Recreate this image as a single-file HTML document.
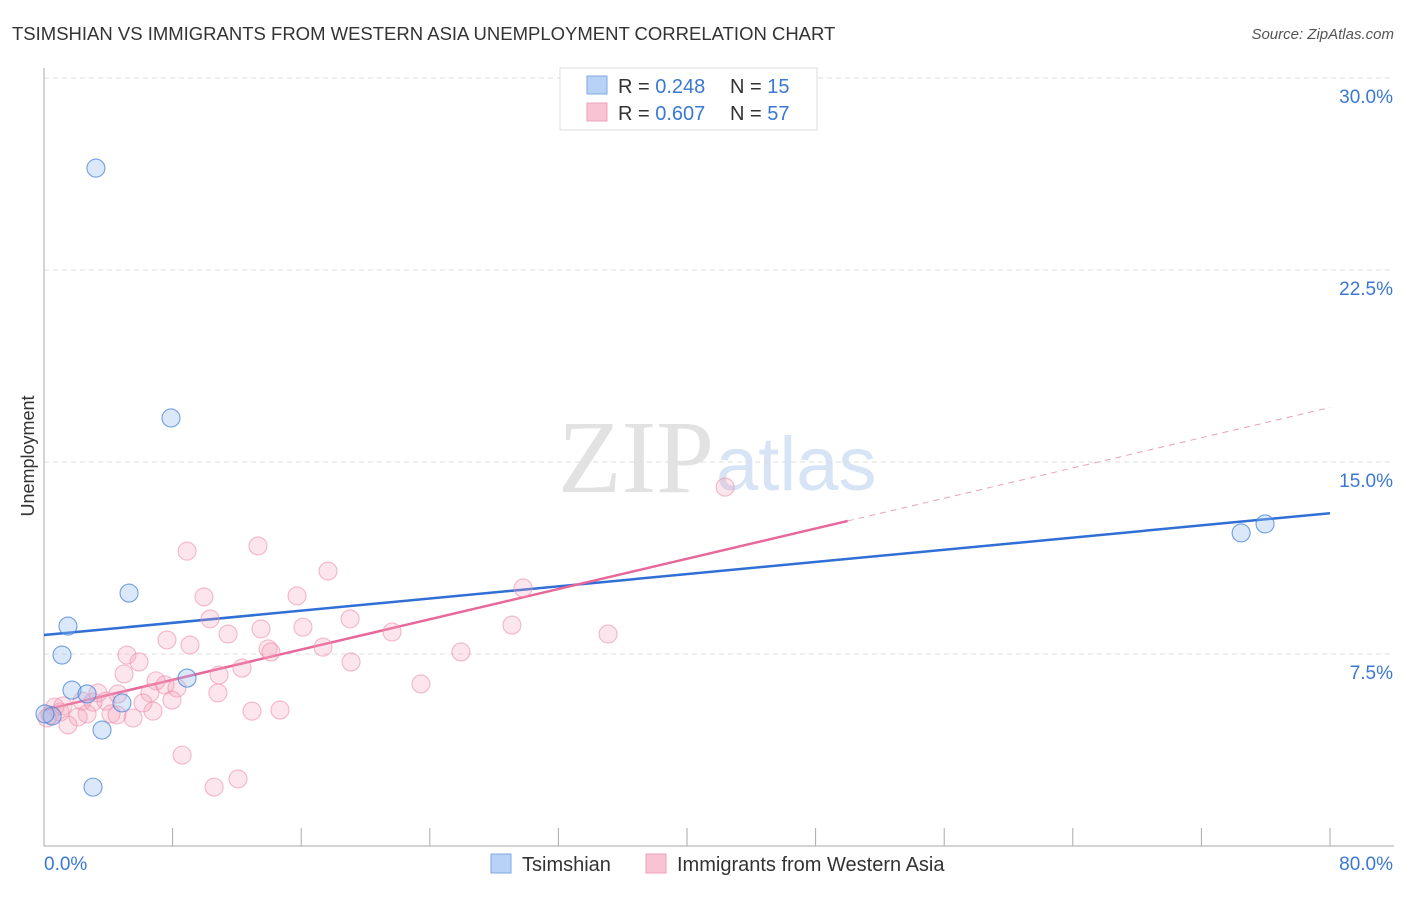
<!DOCTYPE html>
<html><head><meta charset="utf-8"><style>
body{margin:0;background:#fff;font-family:"Liberation Sans",sans-serif;}
</style></head><body>
<svg id="chart" width="1406" height="892" xmlns="http://www.w3.org/2000/svg" font-family="Liberation Sans, sans-serif">
<text x="12" y="40" font-size="18.5" fill="#333">TSIMSHIAN VS IMMIGRANTS FROM WESTERN ASIA UNEMPLOYMENT CORRELATION CHART</text>
<text x="1394" y="39" font-size="15" fill="#555" font-style="italic" text-anchor="end">Source: ZipAtlas.com</text>
<text x="714" y="492" font-size="104" fill="#e2e2e2" text-anchor="end" font-family="Liberation Serif, serif">ZIP</text>
<text x="716" y="490" font-size="76" fill="#d6e4f5">atlas</text>
<text transform="translate(34,456) rotate(-90)" font-size="18" fill="#333" text-anchor="middle">Unemployment</text>
<g id="grid"></g><g id="axes"></g><g id="lines"></g><g id="pts"></g>
<g>
<rect x="560" y="68" width="257" height="62" fill="#fff" stroke="#ddd"/>
<rect x="587" y="76" width="20" height="18" fill="#b7d2f5" stroke="#7fa8e0"/>
<rect x="587" y="103" width="20" height="18" fill="#f8c4d3" stroke="#f0a0b8"/>
<text x="618" y="93" font-size="20" fill="#333">R = <tspan fill="#3a78d4">0.248</tspan></text>
<text x="730" y="93" font-size="20" fill="#333">N = <tspan fill="#3a78d4"> 15</tspan></text>
<text x="618" y="120" font-size="20" fill="#333">R = <tspan fill="#3a78d4">0.607</tspan></text>
<text x="730" y="120" font-size="20" fill="#333">N = <tspan fill="#3a78d4">57</tspan></text>
</g>
<g>
<rect x="491" y="854" width="20" height="19" fill="#b7d2f5" stroke="#7fa8e0"/>
<text x="522" y="871" font-size="20" fill="#333">Tsimshian</text>
<rect x="646" y="854" width="20" height="19" fill="#f8c4d3" stroke="#f0a0b8"/>
<text x="677" y="871" font-size="20" fill="#333">Immigrants from Western Asia</text>
</g>
</svg>
<script>
const yTicks=[7.5,15,22.5,30];
const yTickLabels=["7.5%","15.0%","22.5%","30.0%"];
const xTickLabels=["0.0%","80.0%"];
const blueX=[3.23,7.90,5.29,1.49,1.12,1.74,2.68,4.85,8.90,3.61,3.05,0.50,74.47,75.96,0.06];
const blueY=[26.48,16.72,9.88,8.59,7.46,6.09,5.94,5.59,6.56,4.53,2.30,5.08,12.23,12.58,5.16];
const pinkX=[8.90,13.31,17.67,9.95,15.74,7.65,10.33,11.45,13.50,16.11,19.04,21.65,9.08,5.16,5.91,12.32,13.94,14.12,17.36,19.10,4.98,6.97,7.53,8.27,10.89,4.60,6.59,3.36,2.36,3.86,7.96,6.16,4.17,2.68,2.12,5.54,6.78,1.49,1.00,0.68,0.37,0.19,10.82,12.94,14.68,23.45,25.94,29.11,29.80,35.09,42.37,8.59,10.58,12.07,4.54,3.05,1.18];
const pinkY=[11.52,11.72,10.74,9.73,9.77,8.05,8.87,8.28,8.48,8.55,8.87,8.36,7.85,7.46,7.19,6.95,7.70,7.58,7.77,7.19,6.72,6.45,6.29,6.17,6.68,5.94,5.98,5.98,5.66,5.66,5.70,5.59,5.16,5.16,5.04,5.00,5.27,4.73,5.23,5.43,5.12,5.00,5.98,5.27,5.31,6.33,7.58,8.63,10.08,8.28,14.02,3.55,2.30,2.62,5.12,5.62,5.47];
const blueTrend=[8.24,13.0];
const pinkTrend=[5.31,17.13];
const pinkSolidEnd=50;
const NS="http://www.w3.org/2000/svg";
const X=v=>44+v/80*1286, Y=v=>846-v/7.5*192;
function mk(t,a,p){const e=document.createElementNS(NS,t);for(const k in a)e.setAttribute(k,a[k]);document.getElementById(p).appendChild(e);return e;}
yTicks.forEach((t,i)=>{
 const l=mk('line',{x1:44,x2:1394,y1:Y(t),y2:Y(t),stroke:'#ddd','stroke-dasharray':'5,4'},'grid');
 
 
 const tx=mk('text',{x:1393,y:Y(t)+25,'font-size':19,fill:'#3a78d4','text-anchor':'end'},'axes');
 tx.textContent=yTickLabels[i];
 
 
});
let a=mk('line',{x1:44,x2:44,y1:68,y2:846,stroke:'#aaa'},'axes');


a=mk('line',{x1:44,x2:1394,y1:846,y2:846,stroke:'#aaa'},'axes');


for(let i=0;i<=10;i++){
 const t=mk('line',{x1:X(i*8),x2:X(i*8),y1:828,y2:846,stroke:'#aaa'},'axes');
 
 
}
[[0,'start',44],[80,'end',1393]].forEach((d,i)=>{
 const tx=mk('text',{x:d[2],y:870,'font-size':19,fill:'#3a78d4','text-anchor':d[1]},'axes');
 tx.textContent=xTickLabels[i];
 
 
});
function pts(xs,ys,fill,stroke,name){
 xs.forEach((x,i)=>{
  const c=mk('circle',{cx:X(x),cy:Y(ys[i]),r:9,fill:fill,stroke:stroke,'stroke-width':1.1},'pts');
  
  
 });
}
pts(pinkX,pinkY,'rgba(244,160,185,0.28)','rgba(236,140,170,0.6)','immigrants-point');
pts(blueX,blueY,'rgba(150,190,240,0.35)','rgba(70,130,215,0.75)','tsimshian-point');
let l=mk('line',{x1:X(0),y1:Y(blueTrend[0]),x2:X(80),y2:Y(blueTrend[1]),stroke:'#2f6fd6','stroke-width':2.5},'lines');


const pe=pinkTrend[0]+(pinkTrend[1]-pinkTrend[0])*pinkSolidEnd/80;
l=mk('line',{x1:X(0),y1:Y(pinkTrend[0]),x2:X(pinkSolidEnd),y2:Y(pe),stroke:'#e8679a','stroke-width':2.5},'lines');


l=mk('line',{x1:X(pinkSolidEnd),y1:Y(pe),x2:X(80),y2:Y(pinkTrend[1]),stroke:'#e8a0ba','stroke-width':1,'stroke-dasharray':'6,5'},'lines');


</script>
</body></html>
